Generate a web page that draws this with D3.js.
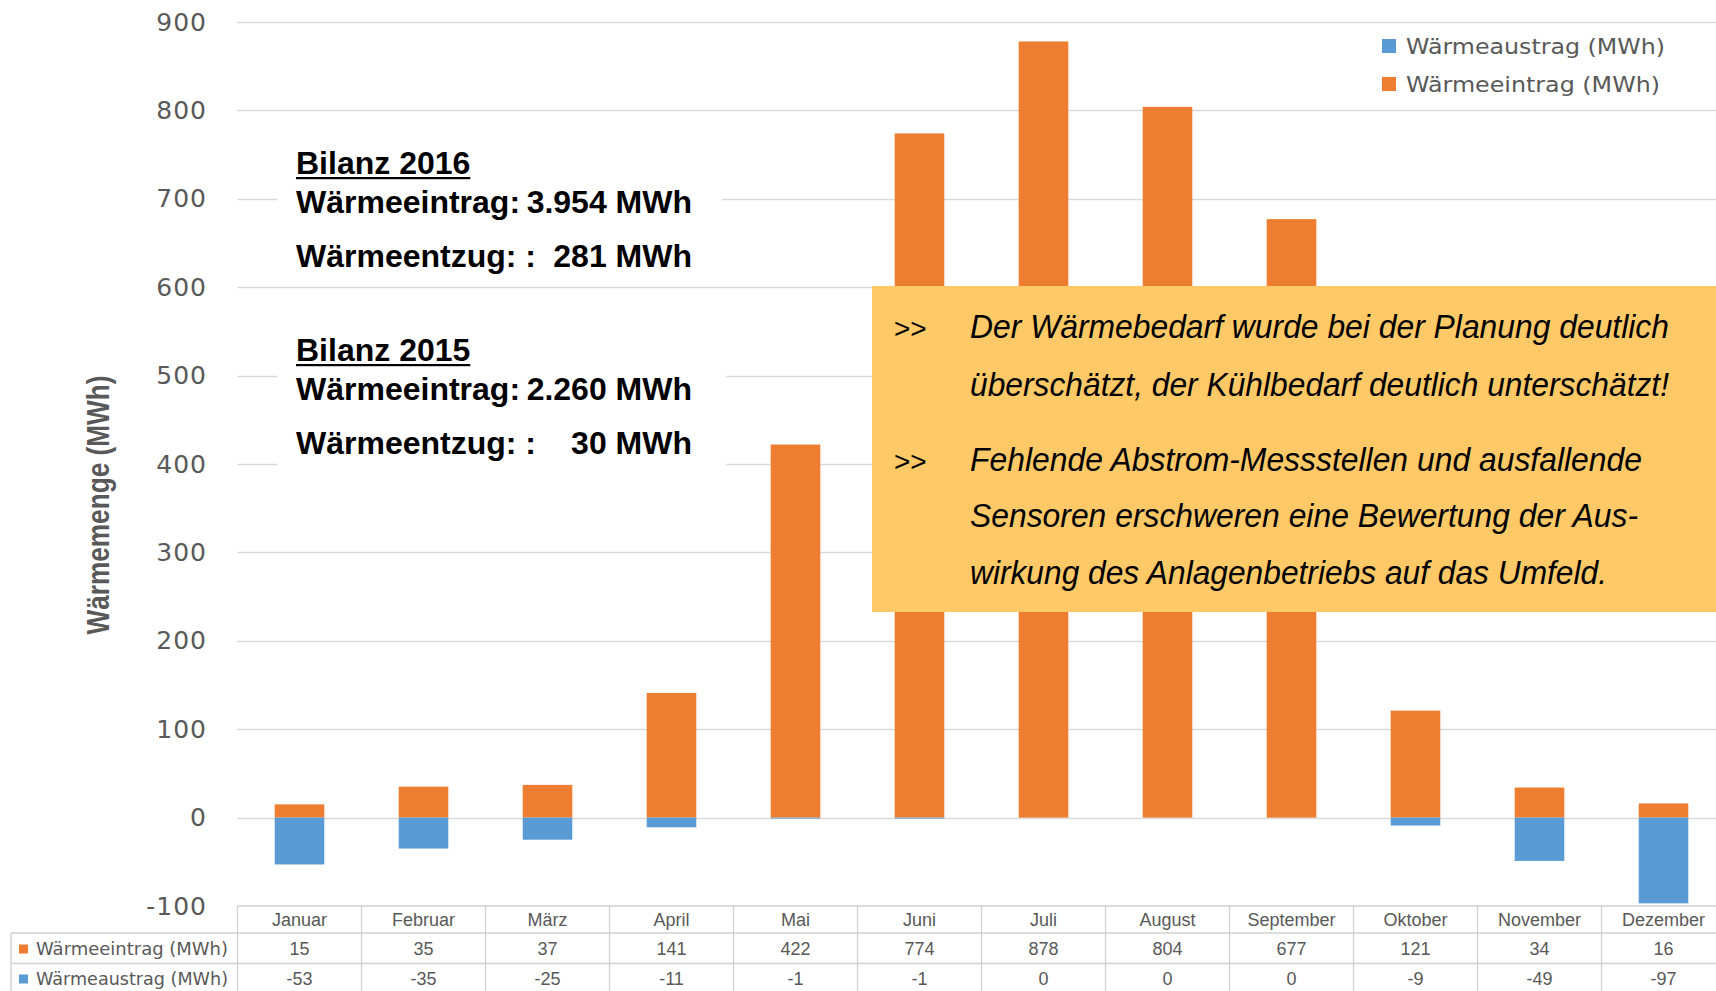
<!DOCTYPE html>
<html>
<head>
<meta charset="utf-8">
<script src="https://cdn.jsdelivr.net/npm/d3@7"></script>
<style>
  body { margin: 0; background: #fff; }
  svg { display: block; }
</style>
</head>
<body>
<div id="chart"></div>
<script>
// data
const months = ["Januar", "Februar", "März", "April", "Mai", "Juni", "Juli", "August", "September", "Oktober", "November", "Dezember"];
const eintrag = [15, 35, 37, 141, 422, 774, 878, 804, 677, 121, 34, 16];
const austrag = [-53, -35, -25, -11, -1, -1, 0, 0, 0, -9, -49, -97];
const yTicks = [-100, 0, 100, 200, 300, 400, 500, 600, 700, 800, 900];
const seriesNames = ["Wärmeeintrag (MWh)", "Wärmeaustrag (MWh)"];
const bilanz = [
  { title: "Bilanz 2016", eintrag: "3.954 MWh", entzug: "281 MWh" },
  { title: "Bilanz 2015", eintrag: "2.260 MWh", entzug: "30 MWh" }
];
const notes = [
  ["Der Wärmebedarf wurde bei der Planung deutlich", "überschätzt, der Kühlbedarf deutlich unterschätzt!"],
  ["Fehlende Abstrom-Messstellen und ausfallende", "Sensoren erschweren eine Bewertung der Aus-", "wirkung des Anlagenbetriebs auf das Umfeld."]
];

const width = 1716, height = 991;
const ORANGE = "#ED7D31", BLUE = "#5B9BD5", GRID = "#d9d9d9", TXT = "#595959";

const svg = d3.select("#chart").append("svg")
  .attr("width", width).attr("height", height);

const x = d3.scaleBand().domain(months)
  .range([237.5, 1725.5]).paddingInner(0.6).paddingOuter(0.3);
const y = d3.scaleLinear().domain([-100, 900]).range([906, 22]);

// =========================
// grid + y axis
// =========================
svg.append("g").selectAll("line")
  .data(yTicks.filter(d => d > -100))
  .join("line")
  .attr("x1", 237.5).attr("x2", width)
  .attr("y1", d => Math.round(y(d)) + 0.5).attr("y2", d => Math.round(y(d)) + 0.5)
  .attr("stroke", GRID).attr("stroke-width", 1.3);

const yAxis = svg.append("g")
  .attr("transform", "translate(212,0)")
  .call(d3.axisLeft(y).tickValues(yTicks).tickFormat(d => String(d)).tickSize(0).tickPadding(5));
yAxis.select(".domain").remove();
yAxis.selectAll("text")
  .attr("font-family", "DejaVu Sans")
  .attr("font-size", 25)
  .attr("letter-spacing", 1)
  .attr("fill", TXT);

svg.append("text")
  .attr("transform", "translate(109,505) rotate(-90)")
  .attr("text-anchor", "middle")
  .attr("font-family", "Liberation Sans, Arial, sans-serif")
  .attr("font-weight", "bold")
  .attr("font-size", 31)
  .attr("textLength", 259)
  .attr("lengthAdjust", "spacingAndGlyphs")
  .attr("fill", TXT)
  .text("Wärmemenge (MWh)");

// =========================
// bars
// =========================
const bars = svg.append("g");
bars.selectAll("rect.ein")
  .data(months.map((m, i) => ({ m, v: eintrag[i] })))
  .join("rect").attr("class", "ein")
  .attr("x", d => x(d.m)).attr("width", x.bandwidth())
  .attr("y", d => y(d.v)).attr("height", d => y(0) - y(d.v))
  .attr("fill", ORANGE);
bars.selectAll("rect.aus")
  .data(months.map((m, i) => ({ m, v: austrag[i] })))
  .join("rect").attr("class", "aus")
  .attr("x", d => x(d.m)).attr("width", x.bandwidth())
  .attr("y", y(0)).attr("height", d => y(d.v) - y(0))
  .attr("fill", BLUE);

// =========================
// legend (top right)
// =========================
const legend = svg.append("g");
[{ name: seriesNames[1], c: BLUE, len: 259 }, { name: seriesNames[0], c: ORANGE, len: 254 }].forEach((d, i) => {
  const cy = 46 + i * 38;
  legend.append("rect").attr("x", 1382).attr("y", cy - 7).attr("width", 14).attr("height", 14).attr("fill", d.c);
  legend.append("text").attr("x", 1406).attr("y", cy).attr("dy", "0.35em")
    .attr("font-family", "DejaVu Sans").attr("font-size", 22)
    .attr("textLength", d.len).attr("lengthAdjust", "spacingAndGlyphs")
    .attr("fill", TXT).text(d.name);
});

// =========================
// Bilanz text blocks
// =========================
const bil = svg.append("g");
bil.append("rect").attr("x", 277).attr("y", 125).attr("width", 445).attr("height", 153).attr("fill", "#fff");
bil.append("rect").attr("x", 277).attr("y", 310).attr("width", 449).attr("height", 165).attr("fill", "#fff");
bilanz.forEach((b, i) => {
  const base = 174 + i * 187;
  const font = t => t.attr("font-family", "Liberation Sans, Arial, sans-serif")
    .attr("font-weight", "bold").attr("font-size", 32).attr("fill", "#000");
  const title = bil.append("text").attr("x", 296).attr("y", base).text(b.title).call(font);
  const tw = title.node().getComputedTextLength();
  bil.append("rect").attr("x", 296).attr("y", base + 3).attr("width", tw).attr("height", 2.2).attr("fill", "#000");
  bil.append("text").attr("x", 296).attr("y", base + 39).text("Wärmeeintrag:").call(font);
  bil.append("text").attr("x", 692).attr("y", base + 39).attr("text-anchor", "end").text(b.eintrag).call(font);
  bil.append("text").attr("x", 296).attr("y", base + 93).text("Wärmeentzug: :").call(font);
  bil.append("text").attr("x", 692).attr("y", base + 93).attr("text-anchor", "end").text(b.entzug).call(font);
});

// =========================
// note box
// =========================
const note = svg.append("g");
note.append("rect").attr("x", 872).attr("y", 286).attr("width", width - 872).attr("height", 326).attr("fill", "#FEC966");
const lineW = [[699, 699], [672, 668, 637]];
const lineY = [[338, 396], [471, 527, 584]];
notes.forEach((para, pi) => {
  note.append("text").attr("x", 894).attr("y", lineY[pi][0])
    .attr("font-family", "Liberation Sans, Arial, sans-serif").attr("font-size", 28)
    .attr("fill", "#000").text(">>");
  para.forEach((ln, li) => {
    note.append("text").attr("x", 970).attr("y", lineY[pi][li])
      .attr("font-family", "Liberation Sans, Arial, sans-serif")
      .attr("font-style", "italic").attr("font-size", 33)
      .attr("textLength", lineW[pi][li]).attr("lengthAdjust", "spacingAndGlyphs")
      .attr("fill", "#000").text(ln);
  });
});

// =========================
// data table
// =========================
const tbl = svg.append("g");
const colLeft = m => x(m) + x.bandwidth() / 2 - x.step() / 2;
const rowLines = [906, 933, 963.5];
tbl.selectAll("line.h")
  .data(rowLines)
  .join("line").attr("class", "h")
  .attr("x1", (d, i) => i === 0 ? 237.5 : 11).attr("x2", width)
  .attr("y1", d => d).attr("y2", d => d)
  .attr("stroke", "#d0d0d0").attr("stroke-width", 1.3);
tbl.append("line").attr("x1", 11).attr("x2", 11).attr("y1", 933).attr("y2", height)
  .attr("stroke", "#d0d0d0").attr("stroke-width", 1.3);
tbl.selectAll("line.v")
  .data(months)
  .join("line").attr("class", "v")
  .attr("x1", d => colLeft(d)).attr("x2", d => colLeft(d))
  .attr("y1", 906).attr("y2", height)
  .attr("stroke", "#d0d0d0").attr("stroke-width", 1.3);

const cellFont = s => s.attr("font-family", "Liberation Sans, Arial, sans-serif")
  .attr("font-size", 18).attr("fill", TXT).attr("text-anchor", "middle").attr("dy", "0.35em");
tbl.selectAll("text.cat").data(months).join("text").attr("class", "cat")
  .attr("x", d => x(d) + x.bandwidth() / 2).attr("y", 920).text(d => d).call(cellFont);
tbl.selectAll("text.ein").data(eintrag).join("text").attr("class", "ein")
  .attr("x", (d, i) => x(months[i]) + x.bandwidth() / 2).attr("y", 949).text(d => d).call(cellFont);
tbl.selectAll("text.aus").data(austrag).join("text").attr("class", "aus")
  .attr("x", (d, i) => x(months[i]) + x.bandwidth() / 2).attr("y", 979).text(d => d).call(cellFont);

[{ name: seriesNames[0], c: ORANGE, cy: 949 }, { name: seriesNames[1], c: BLUE, cy: 979 }].forEach(d => {
  tbl.append("rect").attr("x", 19).attr("y", d.cy - 4.5).attr("width", 9).attr("height", 9).attr("fill", d.c);
  tbl.append("text").attr("x", 36).attr("y", d.cy).attr("dy", "0.35em")
    .attr("font-family", "DejaVu Sans").attr("font-size", 17)
    .attr("textLength", 192).attr("lengthAdjust", "spacingAndGlyphs")
    .attr("fill", TXT).text(d.name);
});
</script>
</body>
</html>
